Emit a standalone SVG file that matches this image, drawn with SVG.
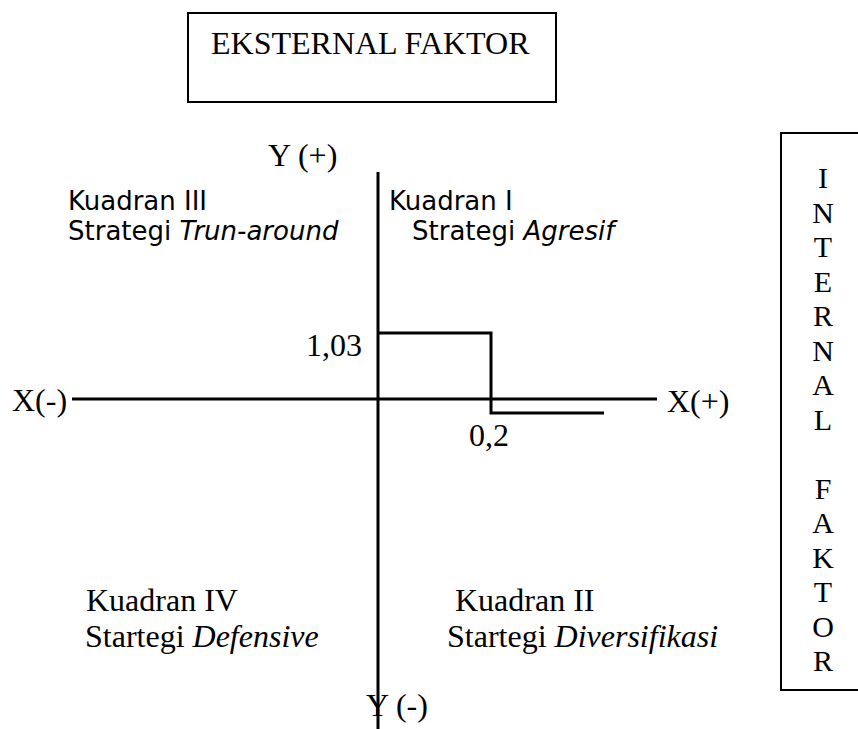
<svg xmlns="http://www.w3.org/2000/svg" width="858" height="729" viewBox="0 0 858 729">
<style>
.t{font-family:"Liberation Serif","Times New Roman",serif;font-size:32px;fill:#000}
.v{font-family:"Liberation Serif","Times New Roman",serif;font-size:30px;fill:#000}
.s{font-family:"DejaVu Sans","Open Sans",sans-serif;font-size:26px;fill:#000}
.i{font-style:italic}
.ln{stroke:#000;stroke-width:3;fill:none}
.bx{stroke:#000;stroke-width:2;fill:none}
</style>
<rect width="858" height="729" fill="#fff"/>
<g id="eksternal">
<rect class="bx" x="188" y="13" width="368" height="89"/>
<text class="t" x="211" y="54">EKSTERNAL FAKTOR</text>
</g>
<g id="internal">
<path class="bx" d="M860,133 H781 V690 H860"/>
<text class="v" text-anchor="middle">
<tspan x="823" y="188">I</tspan><tspan x="823" y="222.5">N</tspan><tspan x="823" y="257">T</tspan><tspan x="823" y="291.5">E</tspan><tspan x="823" y="326">R</tspan><tspan x="823" y="360.5">N</tspan><tspan x="823" y="395">A</tspan><tspan x="823" y="429.5">L</tspan><tspan x="823" y="498.5">F</tspan><tspan x="823" y="533">A</tspan><tspan x="823" y="567.5">K</tspan><tspan x="823" y="602">T</tspan><tspan x="823" y="636.5">O</tspan><tspan x="823" y="671">R</tspan>
</text>
</g>
<g id="connectors">
<line class="ln" x1="378" y1="172" x2="378" y2="729"/>
<line class="ln" x1="72" y1="399" x2="657" y2="399"/>
<path class="ln" d="M378,333 H491 V413 H604"/>
</g>
<g id="labels">
<text class="t" x="268" y="166">Y (+)</text>
<text class="t" x="366" y="716">Y (-)</text>
<text class="t" x="12" y="411">X(-)</text>
<text class="t" x="667" y="412">X(+)</text>
<text class="t" x="306" y="356">1,03</text>
<text class="t" x="469" y="446">0,2</text>
</g>
<g id="kuadran3">
<text class="s" x="68" y="210">Kuadran III</text>
<text class="s" x="68" y="240">Strategi <tspan class="i">Trun-around</tspan></text>
</g>
<g id="kuadran1">
<text class="s" x="389" y="210">Kuadran I</text>
<text class="s" x="412" y="240">Strategi <tspan class="i">Agresif</tspan></text>
</g>
<g id="kuadran4">
<text class="t" x="86" y="611">Kuadran IV</text>
<text class="t" x="85" y="647">Startegi <tspan class="i">Defensive</tspan></text>
</g>
<g id="kuadran2">
<text class="t" x="455" y="611">Kuadran II</text>
<text class="t" x="447" y="647">Startegi <tspan class="i">Diversifikasi</tspan></text>
</g>
</svg>
